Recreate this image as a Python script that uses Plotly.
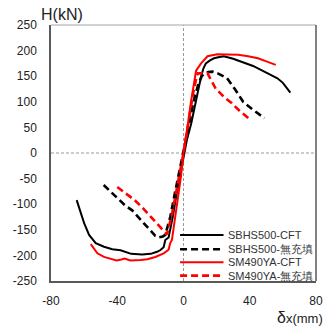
import plotly.graph_objects as go

# Envelope curves: horizontal displacement δx (mm) vs. horizontal load H (kN)
sbhs500_cft_x = [-64.5, -62, -60, -57, -53, -48, -43, -38, -35, -31.6, -25, -19.8, -16, -13.9,
                 -12, -11, -9, -6.5, -4.1, -2, 0, 2, 4.7, 7, 9, 10.6, 12, 13.5, 16, 18.4, 21,
                 24.3, 30, 36, 42, 48.8, 53, 56.7, 60, 62.5, 64.5]
sbhs500_cft_y = [-92, -118, -137, -160, -176, -183, -188, -190, -193, -197, -198, -197, -193, -189.5,
                 -184, -170, -165, -125, -79, -45, -10, 25, 58, 95, 125, 149, 165, 175, 181, 185, 187,
                 189, 184, 177, 170, 159, 152, 146, 137, 126, 118]

sbhs500_hollow_x = [-48.2, -43, -39, -35.5, -31, -27.6, -23.5, -19.8, -17, -14.9, -12.5, -11, -8, -5,
                    -2, 0, 3, 6, 9, 11, 12.5, 15, 17.5, 21, 26.3, 31, 36, 41, 45, 48.8]
sbhs500_hollow_y = [-62.5, -78, -90, -101.6, -112, -124, -140, -153.7, -162, -164.8, -163, -160, -125, -75,
                    -30, 0, 50, 100, 135, 150, 155.6, 158, 159, 155, 146, 125, 100, 87, 77, 68]

sm490ya_cft_x = [-56, -54, -52, -48, -44, -40.4, -37.5, -35.5, -33, -31.6, -26, -21.8, -17, -12, -9, -8,
                 -7, -5, -3.1, -1.5, 0, 1.5, 2.7, 4.5, 6, 7.6, 10.6, 14.5, 20.4, 27, 33, 39, 45, 50, 55.7]
sm490ya_cft_y = [-178, -188, -196, -203, -207, -210, -208, -206, -209, -210, -209, -207.6, -203, -196, -189,
                 -176, -170, -125, -79, -45, 0, 30, 58, 100, 130, 160.7, 175, 189, 193, 193, 192, 189, 185,
                 179, 172]

sm490ya_hollow_x = [-40, -35, -29.6, -25, -20.8, -16.5, -12.9, -11, -10, -7, -4, -2, 0, 2, 4, 6, 8,
                    8.6, 14.5, 19.4, 24.3, 29.2, 34, 40]
sm490ya_hollow_y = [-66.4, -78, -91.8, -106, -121, -137, -150, -157, -159, -120, -70, -35, 0, 40, 85, 120, 150,
                    155.6, 155.6, 126, 110, 97, 82, 66]

series_names = ["SBHS500-CFT", "SBHS500-無充填", "SM490YA-CFT", "SM490YA-無充填"]
series_x = [sbhs500_cft_x, sbhs500_hollow_x, sm490ya_cft_x, sm490ya_hollow_x]
series_y = [sbhs500_cft_y, sbhs500_hollow_y, sm490ya_cft_y, sm490ya_hollow_y]
series_color = ["#000000", "#000000", "#ff0000", "#ff0000"]
series_dash = ["solid", "7px,4px", "solid", "7px,4px"]
series_width = [2, 2.6, 2, 2.6]

x_ticks = [-80, -40, 0, 40, 80]
y_ticks = [250, 200, 150, 100, 50, 0, -50, -100, -150, -200, -250]

FONT = "Liberation Sans, Arial, sans-serif"

fig = go.Figure()
for name, xs, ys, c, d, w in zip(series_names, series_x, series_y, series_color, series_dash, series_width):
    fig.add_trace(go.Scatter(x=xs, y=ys, mode="lines", name=name, showlegend=False,
                             line=dict(color=c, dash=d, width=w)))

shapes = [
    # dashed reference lines through the origin
    dict(type="line", xref="x", yref="paper", x0=0, x1=0, y0=0, y1=1,
         line=dict(color="#9a9a9a", width=1, dash="3px,2px"), layer="below"),
    dict(type="line", xref="paper", yref="y", x0=0, x1=1, y0=0, y1=0,
         line=dict(color="#9a9a9a", width=1, dash="3px,2px"), layer="below"),
    # plot-area border: light top edge, dark right edge
    dict(type="line", xref="paper", yref="paper", x0=0, x1=1, y0=1, y1=1,
         line=dict(color="#a6a6a6", width=1)),
    dict(type="line", xref="paper", yref="paper", x0=1, x1=1, y0=0, y1=1,
         line=dict(color="#595959", width=1.5)),
]
annotations = [
    dict(text="H(kN)", xref="paper", yref="paper", x=-0.045, y=1.0, xanchor="left", yanchor="bottom",
         showarrow=False, font=dict(family=FONT, size=16, color="#222")),
    dict(text="<span style='font-size:16px'>δ</span>x(mm)", xref="paper", yref="paper", x=1.035, y=-0.1,
         xanchor="right", yanchor="top", showarrow=False, font=dict(family=FONT, size=13, color="#222")),
]

# legend drawn inside the plot area, bottom right
legend_y = [0.18, 0.124, 0.073, 0.021]
for name, c, d, w, ly in zip(series_names, series_color, series_dash, series_width, legend_y):
    shapes.append(dict(type="line", xref="paper", yref="paper", x0=0.487, x1=0.651, y0=ly, y1=ly,
                       line=dict(color=c, width=w, dash=d)))
    annotations.append(dict(text=name, xref="paper", yref="paper", x=0.662, y=ly, xanchor="left",
                            yanchor="middle", showarrow=False,
                            font=dict(family=FONT, size=11, color="#333")))

fig.update_layout(
    width=333, height=331,
    margin=dict(l=51, r=10, t=25, b=50),
    paper_bgcolor="white", plot_bgcolor="white",
    font=dict(family=FONT, size=12, color="#222"),
    shapes=shapes, annotations=annotations,
    xaxis=dict(range=[-80, 80], tickvals=x_ticks, ticktext=[str(v) for v in x_ticks],
               showgrid=False, zeroline=False, showline=True, mirror=False,
               linecolor="#595959", linewidth=1.5, ticks="", ticklabelstandoff=8,
               tickfont=dict(size=12)),
    yaxis=dict(range=[-250, 250], tickvals=y_ticks, ticktext=[str(v) for v in y_ticks],
               showgrid=False, zeroline=False, showline=True, mirror=False,
               linecolor="#595959", linewidth=1.5, ticks="", ticklabelstandoff=10,
               tickfont=dict(size=12)),
)

fig.write_html("out.html")
